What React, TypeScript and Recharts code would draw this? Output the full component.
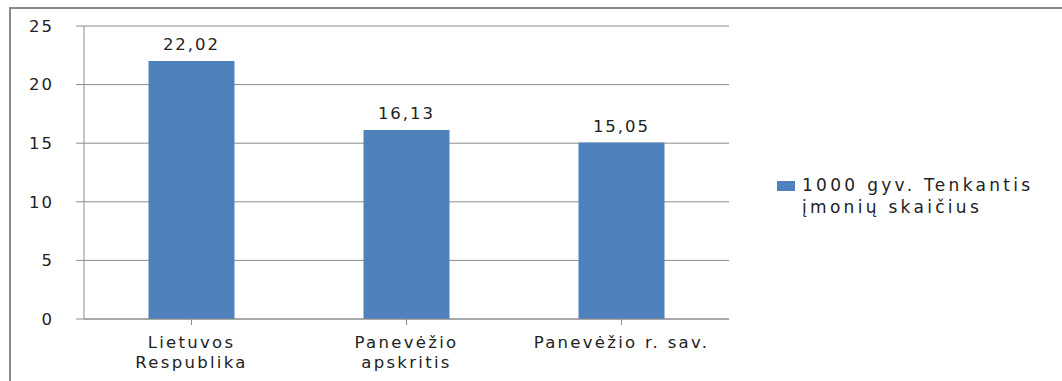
import { BarChart, Bar, XAxis, YAxis, CartesianGrid, LabelList } from 'recharts'

const categories = ['Lietuvos\nRespublika', 'Panevėžio\napskritis', 'Panevėžio r. sav.']
const values = [22.02, 16.13, 15.05]
const yTicks = [0, 5, 10, 15, 20, 25]
const seriesName = ['1000 gyv. Tenkantis', 'įmonių skaičius']

const data = categories.map((c, i) => ({ name: c, value: values[i] }))

const FONT = '"DejaVu Sans", sans-serif'
const BAR = '#4f81bd'
const AXIS = '#8c8c8c'

function CategoryTick({ x, y, payload }: any) {
  const lines = String(payload.value).split('\n')
  return (
    <text x={x} y={y} textAnchor="middle" fontFamily={FONT} fontSize={16.5} fill="#222" letterSpacing={2.3}>
      {lines.map((l, i) => (
        <tspan key={i} x={x} dy={i === 0 ? 21 : 20}>
          {l}
        </tspan>
      ))}
    </text>
  )
}

function ValueLabel({ x, y, width, value }: any) {
  return (
    <text x={x + width / 2} y={y - 11} textAnchor="middle" fontFamily={FONT} fontSize={16.5} fill="#222" letterSpacing={2}>
      {String(value).replace('.', ',')}
    </text>
  )
}

export default function App() {
  return (
    <div style={{ position: 'absolute', left: 0, top: 0, width: 1062, height: 381, background: '#fff' }}>
      <div
        style={{
          position: 'absolute',
          left: 9,
          top: 7,
          width: 1062,
          height: 381,
          borderLeft: '2px solid #8a8a8a',
          borderTop: '2px solid #8a8a8a',
        }}
      />
      <BarChart
        width={1062}
        height={381}
        data={data}
        barCategoryGap="30%"
        margin={{ top: 26, right: 333, bottom: 0, left: 0 }}
        style={{ position: 'absolute', left: 0, top: 0 }}
      >
        <CartesianGrid vertical={false} stroke={AXIS} strokeWidth={1} />
        <XAxis
          dataKey="name"
          stroke={AXIS}
          tickSize={6}
          height={62}
          interval={0}
          tick={<CategoryTick />}
          tickLine={{ stroke: AXIS }}
        />
        <YAxis
          domain={[0, 25]}
          ticks={yTicks}
          width={84}
          stroke={AXIS}
          tickSize={8}
          tickMargin={22}
          tick={{ fontFamily: FONT, fontSize: 16.5, fill: '#222', letterSpacing: 2 }}
        />
        <Bar dataKey="value" fill={BAR} isAnimationActive={false}>
          <LabelList dataKey="value" content={<ValueLabel />} />
        </Bar>
      </BarChart>
      <div
        style={{
          position: 'absolute',
          left: 777,
          top: 174,
          display: 'flex',
          fontFamily: FONT,
          fontSize: 17,
          color: '#222',
          letterSpacing: 3.3,
          lineHeight: '22px',
        }}
      >
        <div style={{ width: 18, height: 10, background: BAR, marginTop: 7, marginRight: 7 }} />
        <div>
          {seriesName.map(s => (
            <div key={s}>{s}</div>
          ))}
        </div>
      </div>
    </div>
  )
}
